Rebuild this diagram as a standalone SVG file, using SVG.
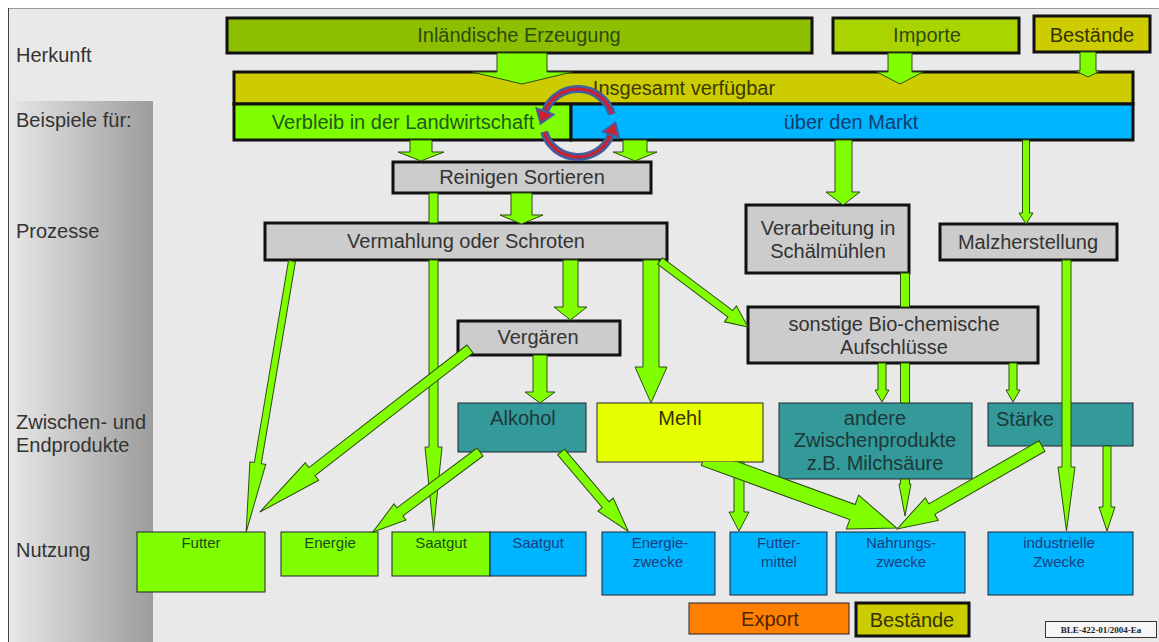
<svg xmlns="http://www.w3.org/2000/svg" width="1159" height="642" viewBox="0 0 1159 642">
<defs>
<linearGradient id="bar" x1="0" y1="0" x2="1" y2="0">
<stop offset="0" stop-color="#e4e4e4"/>
<stop offset="1" stop-color="#9c9c9c"/>
</linearGradient>
<clipPath id="belowMehl"><rect x="600" y="462" width="400" height="100"/></clipPath>
<style>
text{font-family:"Liberation Sans",Arial,sans-serif}
text.serif{font-family:"Liberation Serif","Times New Roman",serif;font-size:9px;font-weight:bold;text-anchor:middle;fill:#222}
.lbl{font-size:20px;fill:#333}
.t{font-size:20px;text-anchor:middle}
.s{font-size:15px;text-anchor:middle}
.thick{stroke:#111;stroke-width:3}
.thin{stroke:#223;stroke-width:1}
.grey{fill:#cccccc}
.teal{fill:#339999}
.grn{fill:#80ff00}
.blu{fill:#00b5ff}
.olv{fill:#cccc00}
.arr{fill:#80ff00;stroke:#2d4d10;stroke-width:1;stroke-linejoin:miter}
</style>
</defs>
<rect x="0" y="0" width="1159" height="642" fill="#ffffff"/>
<rect x="8" y="8" width="1151" height="634" fill="#e9e9e9"/>
<line x1="8" y1="8.5" x2="1159" y2="8.5" stroke="#9a9a9a" stroke-width="1"/>
<line x1="8.5" y1="8" x2="8.5" y2="642" stroke="#444" stroke-width="1"/>
<rect x="15" y="101" width="138" height="541" fill="url(#bar)"/>
<g id="row-labels">
<text class="lbl" x="16" y="62">Herkunft</text>
<text class="lbl" x="16" y="127">Beispiele für:</text>
<text class="lbl" x="16" y="238">Prozesse</text>
<text class="lbl" x="16" y="429">Zwischen- und</text>
<text class="lbl" x="16" y="452">Endprodukte</text>
<text class="lbl" x="16" y="557">Nutzung</text>
</g>
<g id="n-inlaendisch"><rect x="227" y="18" width="585" height="35" fill="#8dbf00" class="thick"/><text class="t" x="519" y="42" fill="#2e4a10">Inländische Erzeugung</text></g>
<g id="n-importe"><rect x="833" y="18" width="186" height="35" fill="#aad400" class="thick"/><text class="t" x="927" y="42" fill="#2e4a10">Importe</text></g>
<g id="n-bestaende-top"><rect x="1034" y="16" width="116" height="36" class="thick olv"/><text class="t" x="1092" y="42" fill="#333300">Bestände</text></g>
<g id="n-insgesamt"><rect x="234" y="72" width="899" height="32" class="thick olv"/><text class="t" x="684" y="95" fill="#3a3a00">Insgesamt verfügbar</text></g>
<g id="n-verbleib"><rect x="234" y="104" width="337" height="36" class="thick grn"/><text class="t" x="403" y="129" fill="#1e5a1e">Verbleib in der Landwirtschaft</text></g>
<g id="n-markt"><rect x="571" y="104" width="562" height="36" class="thick blu"/><text class="t" x="851" y="129" fill="#143c6e">über den Markt</text></g>
<g id="n-reinigen"><rect x="393" y="162" width="258" height="31" class="thick grey"/><text class="t" x="522" y="184" fill="#333">Reinigen Sortieren</text></g>
<g id="n-vermahlung"><rect x="265" y="223" width="402" height="37" class="thick grey"/><text class="t" x="466" y="248" fill="#333">Vermahlung oder Schroten</text></g>
<g id="n-verarbeitung"><rect x="746" y="205" width="163" height="68" class="thick grey"/><text class="t" x="828" y="235" fill="#333">Verarbeitung in</text><text class="t" x="828" y="258" fill="#333">Schälmühlen</text></g>
<g id="n-malz"><rect x="940" y="224" width="177" height="36" class="thick grey"/><text class="t" x="1028" y="249" fill="#333">Malzherstellung</text></g>
<g id="n-vergaeren"><rect x="458" y="321" width="162" height="34" class="thick grey"/><text class="t" x="538" y="344" fill="#333">Vergären</text></g>
<g id="n-sonstige"><rect x="748" y="307" width="290" height="56" class="thick grey"/><text class="t" x="894" y="331" fill="#333">sonstige Bio-chemische</text><text class="t" x="894" y="354" fill="#333">Aufschlüsse</text></g>
<g id="n-alkohol"><rect x="458" y="403" width="128" height="49" class="thin teal"/><text class="t" x="523" y="425" fill="#1e3838">Alkohol</text></g>
<g id="n-mehl"><rect x="597" y="403" width="166" height="59" fill="#e6ff00" class="thin"/><text class="t" x="680" y="425" fill="#333300">Mehl</text></g>
<g id="n-andere"><rect x="779" y="403" width="193" height="76" class="thin teal"/><text class="t" x="875" y="425" fill="#1e3838">andere</text><text class="t" x="875" y="447" fill="#1e3838">Zwischenprodukte</text><text class="t" x="875" y="470" fill="#1e3838">z.B. Milchsäure</text></g>
<g id="n-staerke"><rect x="988" y="403" width="145" height="43" class="thin teal"/><text x="996" y="426" font-size="20" fill="#1e3838">Stärke</text></g>
<g id="n-futter"><rect x="137" y="532" width="128" height="60" class="thin grn"/><text class="s" x="201" y="548" fill="#1a4d1a">Futter</text></g>
<g id="n-energie"><rect x="281" y="532" width="97" height="44" class="thin grn"/><text class="s" x="330" y="548" fill="#1a4d1a">Energie</text></g>
<g id="n-saatgut-1"><rect x="392" y="532" width="98" height="44" class="thin grn"/><text class="s" x="441" y="548" fill="#1a4d1a">Saatgut</text></g>
<g id="n-saatgut-2"><rect x="490" y="532" width="96" height="44" class="thin blu"/><text class="s" x="538" y="548" fill="#1a3f80">Saatgut</text></g>
<g id="n-energiezwecke"><rect x="602" y="532" width="113" height="63" class="thin blu"/><text class="s" x="660" y="548" fill="#1a3f80">Energie-</text><text class="s" x="658" y="567" fill="#1a3f80">zwecke</text></g>
<g id="n-futtermittel"><rect x="730" y="532" width="97" height="63" class="thin blu"/><text class="s" x="779" y="548" fill="#1a3f80">Futter-</text><text class="s" x="779" y="567" fill="#1a3f80">mittel</text></g>
<g id="n-nahrung"><rect x="836" y="532" width="129" height="61" class="thin blu"/><text class="s" x="901" y="548" fill="#1a3f80">Nahrungs-</text><text class="s" x="901" y="567" fill="#1a3f80">zwecke</text></g>
<g id="n-industrie"><rect x="988" y="532" width="145" height="63" class="thin blu"/><text class="s" x="1059" y="548" fill="#1a3f80">industrielle</text><text class="s" x="1059" y="567" fill="#1a3f80">Zwecke</text></g>
<g id="n-export"><rect x="689" y="603" width="160" height="31" fill="#ff8000" class="thin"/><text class="t" x="770" y="626" fill="#4d2600">Export</text></g>
<g id="n-bestaende-bot"><rect x="856" y="603" width="113" height="33" class="thick olv"/><text class="t" x="912" y="627" fill="#333300">Bestände</text></g>
<g id="n-ble"><rect x="1045.5" y="621.5" width="111" height="16" fill="#f6f6f6" stroke="#333" stroke-width="1"/><text class="serif" x="1101" y="633">BLE-422-01/2004-Ea</text></g>
<g id="connectors">
<polygon class="arr" points="497,53 547,53 547,72 572,72 522,84 472,72 497,72"/>
<polygon class="arr" points="888,53 912,53 912,72 923,72 900,84 877,72 888,72"/>
<polygon class="arr" points="1080,52 1096,52 1096,71 1100,71 1088,77 1076,71 1080,71"/>
<polygon class="arr" points="410,140 432,140 432,152 444,152 421,161 398,152 410,152"/>
<polygon class="arr" points="623,140 647,140 647,152 657,152 635,161 613,152 623,152"/>
<rect class="arr" x="429" y="193" width="9" height="30"/>
<polygon class="arr" points="429,260 438,260 438,447 442,447 433.5,531 425,447 429,447"/>
<polygon class="arr" points="511,193 532,193 532,215 543,215 521.5,224 500,215 511,215"/>
<polygon class="arr" points="835,140 852,140 852,192 860,192 843,205 826,192 835,192"/>
<polygon class="arr" points="1022.5,140 1029.5,140 1029.5,213 1033,213 1026,224 1019,213 1022.5,213"/>
<polygon class="arr" points="1062,260 1071,260 1071,467 1075,467 1066.5,531 1058,467 1062,467"/>
<rect class="arr" x="900.5" y="273" width="9" height="34"/>
<rect class="arr" x="900.5" y="363" width="9" height="40"/>
<polygon class="arr" points="900.5,479 909.5,479 909.5,484 911,484 905,516 899,484 900.5,484"/>
<polygon class="arr" points="563,260 578,260 578,307 587,307 570.5,320 554,307 563,307"/>
<polygon class="arr" points="643,260 659,260 659,367 667,367 651,403 635,367 643,367"/>
<polygon class="arr" points="533,355 547,355 547,392 555,392 540,403 525,392 533,392"/>
<polygon class="arr" points="878,363 886,363 886,390 889,390 882,402 875,390 878,390"/>
<polygon class="arr" points="1009,363 1017,363 1017,390 1020,390 1013,402 1006,390 1009,390"/>
<polygon class="arr" points="734,462 744,462 744,512 749,512 739,531 729,512 734,512"/>
<polygon class="arr" points="1103,446 1111,446 1111,507 1115,507 1107,531 1099,507 1103,507"/>
<polygon class="arr" transform="translate(292,261) rotate(99.6)" points="0,-3.5 205,-3.5 205,-8 275,0 205,8 205,3.5 0,3.5"/>
<polygon class="arr" transform="translate(470,349) rotate(142.2)" points="0,-5 200,-5 200,-11 266,0 200,11 200,5 0,5"/>
<polygon class="arr" transform="translate(660,261) rotate(36.9)" points="0,-4 88,-4 88,-10 110,0 88,10 88,4 0,4"/>
<polygon class="arr" transform="translate(480,452) rotate(143.2)" points="0,-5 100,-5 100,-10 134,0 100,10 100,5 0,5"/>
<polygon class="arr" transform="translate(561,452) rotate(49.7)" points="0,-4.5 69,-4.5 69,-10 104,0 69,10 69,4.5 0,4.5"/>
<g clip-path="url(#belowMehl)"><polygon class="arr" transform="translate(704,458) rotate(20)" points="0,-8 158,-8 158,-18 205,0 158,18 158,8 0,8"/></g>
<polygon class="arr" transform="translate(1042,446) rotate(150.2)" points="0,-6 127,-6 127,-13 167,0 127,13 127,6 0,6"/>
</g>
<g id="cycle-icon" fill="none">
<path d="M611.8 114.2 A35 34 0 0 0 545.1 111.4" stroke="#3f5f9f" stroke-width="8"/>
<path d="M611.8 114.2 A35 34 0 0 0 545.1 111.4" stroke="#d02030" stroke-width="3"/>
<path d="M544.2 131.8 A35 34 0 0 0 610.9 134.6" stroke="#3f5f9f" stroke-width="8"/>
<path d="M544.2 131.8 A35 34 0 0 0 610.9 134.6" stroke="#d02030" stroke-width="3"/>
<polygon points="553.5,114.5 536.5,108.3 540.6,123.6" fill="#d02030" stroke="#3f5f9f" stroke-width="2"/>
<polygon points="618.9,137.5 602.9,131.7 615.3,122.4" fill="#d02030" stroke="#3f5f9f" stroke-width="2"/>
</g>
</svg>
